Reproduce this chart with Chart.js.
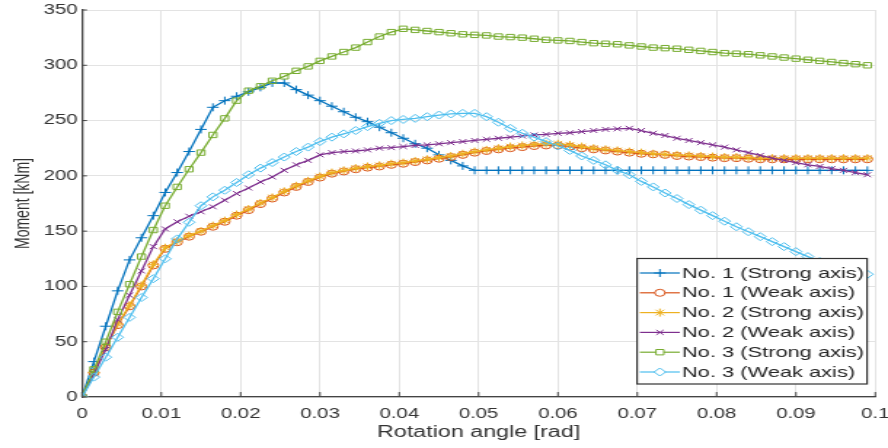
<!DOCTYPE html>
<html>
<head>
<meta charset="utf-8">
<script src="https://cdn.jsdelivr.net/npm/chart.js@4.4.1/dist/chart.umd.min.js"></script>
<style>
  html, body { margin: 0; padding: 0; background: #fff; overflow: hidden; }
  #wrap { width: 888px; height: 448px; overflow: hidden; }
  /* the reference figure is stretched sideways, so draw narrow and scale x */
  #chart { transform: scaleX(1.4557); transform-origin: 0 0; display: block; }
</style>
</head>
<body>
<div id="wrap"><canvas id="chart" width="620" height="448"></canvas></div>
<script>
// rotation angle [rad] of every sample
const angles = [0, 0.0015, 0.003, 0.0045, 0.006, 0.0075, 0.009, 0.0105, 0.012, 0.0135,
  0.015, 0.0165, 0.018, 0.0195, 0.021, 0.0225, 0.024, 0.0255, 0.027, 0.0285,
  0.03, 0.0315, 0.033, 0.0345, 0.036, 0.0375, 0.039, 0.0405, 0.042, 0.0435,
  0.045, 0.0465, 0.048, 0.0495, 0.051, 0.0525, 0.054, 0.0555, 0.057, 0.0585,
  0.06, 0.0615, 0.063, 0.0645, 0.066, 0.0675, 0.069, 0.0705, 0.072, 0.0735,
  0.075, 0.0765, 0.078, 0.0795, 0.081, 0.0825, 0.084, 0.0855, 0.087, 0.0885,
  0.09, 0.0915, 0.093, 0.0945, 0.096, 0.0975, 0.099];

// moment [kNm]
const no1Strong = [0, 32, 64, 96, 124, 144, 164, 185, 203, 222,
  242, 262, 268, 272, 276, 280, 284, 284, 278, 273,
  268, 263, 258, 253, 249, 244, 239, 234, 229, 225,
  219, 214, 209, 205, 205, 205, 205, 205, 205, 205,
  205, 205, 205, 205, 205, 205, 205, 205, 205, 205,
  205, 205, 205, 205, 205, 205, 205, 205, 205, 205,
  205, 205, 205, 205, 205, 205, 205];
const no1Weak = [0, 22, 45, 65, 82, 100, 119, 134, 140, 145,
  149.5, 154, 158.5, 164, 169, 174.5, 179.5, 185, 190, 194.5,
  198.5, 202, 204, 206, 207.5, 208.5, 210, 211, 212.5, 214,
  215.5, 217, 219, 221, 222.5, 224, 225, 226, 227, 227.5,
  227.5, 226.5, 225, 224, 223, 222, 221, 220, 219.5, 219,
  218, 217.5, 217, 216.5, 216, 216, 215.5, 215, 215, 215,
  215, 215, 215, 215, 215, 215, 215];
const no2Strong = [0, 22, 45, 66, 83, 101, 120, 135, 141, 146,
  150, 155, 159.5, 165, 170, 175.5, 180.5, 186, 191, 195.5,
  199.5, 203, 205, 207, 208.5, 209.5, 211, 212, 213.5, 215,
  216.5, 218, 220, 222, 223.5, 225, 226.5, 227.5, 228.5, 229,
  229, 228, 226.5, 225, 224, 223, 222, 221, 220, 219.5,
  219, 218.5, 218, 217.5, 217, 217, 216.5, 216, 216, 216,
  216, 216, 216, 216, 216, 216, 216];
const no2Weak = [0, 21, 43, 70, 92, 114, 136, 152, 158.5, 163.5,
  167.5, 172, 178, 184, 189, 194.5, 199, 205, 210, 214,
  219, 221, 222, 222.5, 223.5, 225, 225.5, 226.5, 227.5, 228,
  229, 230, 231, 232, 233, 234, 235, 236, 237, 237.5,
  238.5, 239, 240, 241, 242, 242.5, 243, 241, 238.5, 236.5,
  234, 232, 230, 228, 226, 223.5, 221, 218.5, 216, 214,
  212, 210, 208.5, 206.5, 205, 203, 201];
const no3Strong = [0, 25, 50, 77, 102, 127, 151, 173, 190, 206,
  221, 237, 252, 268, 277, 281, 286, 290, 295, 299,
  304, 308, 312, 316, 321, 326, 330, 333, 332, 331,
  330, 329, 328, 327.5, 327, 326, 325.5, 325, 324, 323,
  322.5, 322, 321, 320, 319.5, 319, 318, 317, 316, 315.5,
  315, 314, 313, 312, 311, 310.5, 310, 309, 308, 307,
  306, 305, 304, 303, 302, 301, 300];
const no3Weak = [0, 18, 36, 54, 72, 90, 107, 125, 143, 158,
  173, 181, 187, 194, 201, 207, 212, 217, 222, 226,
  231, 235, 238, 241, 244.5, 247.5, 250, 251, 252, 253.5,
  255, 256, 256.5, 256.5, 253.5, 248.5, 243, 238.5, 235, 231,
  227, 223, 218, 214, 210, 205, 201, 195, 190, 184.5,
  179.5, 174, 169, 164, 159, 154, 149.5, 145, 140.5, 136,
  131.5, 127, 122.5, 119, 116, 113.5, 111];

const seriesNames = ['No. 1 (Strong axis)', 'No. 1 (Weak axis)', 'No. 2 (Strong axis)',
  'No. 2 (Weak axis)', 'No. 3 (Strong axis)', 'No. 3 (Weak axis)'];
const xTicks = [0, 0.01, 0.02, 0.03, 0.04, 0.05, 0.06, 0.07, 0.08, 0.09, 0.1];
const yTicks = [0, 50, 100, 150, 200, 250, 300, 350];

const STRETCH = 1.4557;
const colors = ['#0072BD', '#D95319', '#EDB120', '#7E2F8E', '#77AC30', '#4DBEEE'];
const markers = ['cross', 'circle', 'star', 'crossRot', 'rect', 'rectRot'];
const radii = [4, 3.5, 4, 3.5, 3.8, 4];

function toPoints(ys) {
  return angles.map(function (a, i) { return { x: a, y: ys[i] }; });
}

const allSeries = [no1Strong, no1Weak, no2Strong, no2Weak, no3Strong, no3Weak];

// small inward tick marks like the matlab axes
const innerTicks = {
  id: 'innerTicks',
  afterDraw(chart) {
    const ctx = chart.ctx, a = chart.chartArea;
    const xs = chart.scales.x, ys = chart.scales.y;
    ctx.save();
    ctx.strokeStyle = '#444';
    ctx.lineWidth = 1;
    ctx.beginPath();
    xTicks.forEach(function (v) {
      const px = xs.getPixelForValue(v);
      ctx.moveTo(px, a.bottom);
      ctx.lineTo(px, a.bottom - 5);
    });
    yTicks.forEach(function (v) {
      const py = ys.getPixelForValue(v);
      ctx.moveTo(a.left, py);
      ctx.lineTo(a.left + 5 / STRETCH, py);
    });
    ctx.stroke();
    ctx.restore();
  }
};

// boxed legend inside the plot, bottom right
const boxLegend = {
  id: 'boxLegend',
  afterDraw(chart) {
    const ctx = chart.ctx;
    const left = 437.6, right = 595.6, top = 258.5, bottom = 384;
    ctx.save();
    ctx.fillStyle = '#fff';
    ctx.fillRect(left, top, right - left, bottom - top);
    ctx.strokeStyle = '#333';
    ctx.lineWidth = 1.2;
    ctx.strokeRect(left, top, right - left, bottom - top);
    ctx.font = '15px "Liberation Sans", Arial, sans-serif';
    ctx.textBaseline = 'middle';
    for (let i = 0; i < seriesNames.length; i++) {
      const y = 273 + i * 19.8;
      ctx.strokeStyle = colors[i];
      ctx.lineWidth = 1.2;
      ctx.beginPath();
      ctx.moveTo(439.5, y);
      ctx.lineTo(467, y);
      ctx.stroke();
      ctx.fillStyle = '#fff';
      ctx.lineWidth = 1;
      Chart.helpers.drawPoint(ctx, { pointStyle: markers[i], radius: radii[i], rotation: 0, borderWidth: 1 }, 453.3, y);
      ctx.fillStyle = '#262626';
      ctx.fillText(seriesNames[i], 468.5, y + 0.5);
    }
    ctx.restore();
  }
};

Chart.defaults.font.family = '"Liberation Sans", Arial, sans-serif';
Chart.defaults.color = '#333';

const ctx = document.getElementById('chart').getContext('2d');
new Chart(ctx, {
  type: 'line',
  data: {
    datasets: allSeries.map(function (ys, i) {
      return {
        label: seriesNames[i],
        data: toPoints(ys),
        borderColor: colors[i],
        backgroundColor: colors[i],
        pointStyle: markers[i],
        pointRadius: radii[i],
        pointBorderColor: colors[i],
        pointBackgroundColor: 'rgba(0,0,0,0)',
        pointBorderWidth: 1,
        borderWidth: 1.3,
        tension: 0,
        fill: false,
        order: 6 - i
      };
    })
  },
  options: {
    responsive: false,
    animation: false,
    events: [],
    layout: { autoPadding: false, padding: { left: 0, right: 18.2, top: 10, bottom: 0 } },
    plugins: {
      legend: { display: false },
      tooltip: { enabled: false }
    },
    scales: {
      x: {
        type: 'linear',
        min: 0,
        max: 0.1,
        afterFit(scale) { scale.height = 51; },
        afterBuildTicks(scale) { scale.ticks = xTicks.map(function (v) { return { value: v }; }); },
        ticks: {
          padding: 9,
          font: { size: 14 },
          color: '#333',
          maxRotation: 0,
          callback: function (v) { return String(Number(v.toFixed(2))); }
        },
        grid: { color: '#e3e3e3', lineWidth: 1, drawTicks: false },
        border: { color: '#444', width: 1.3 },
        title: {
          display: true,
          text: 'Rotation angle [rad]',
          color: '#333',
          font: { size: 16 },
          padding: { top: 0, bottom: 6 }
        }
      },
      y: {
        type: 'linear',
        min: 0,
        max: 350,
        afterFit(scale) { scale.width = 56.3; },
        afterBuildTicks(scale) { scale.ticks = yTicks.map(function (v) { return { value: v }; }); },
        ticks: { padding: 3, font: { size: 14, lineHeight: 1 }, color: '#333' },
        grid: { color: '#e3e3e3', lineWidth: 1, drawTicks: false },
        border: { color: '#444', width: 1.3 },
        title: {
          display: true,
          text: 'Moment [kNm]',
          color: '#333',
          font: { size: 14 },
          padding: { top: 7.5, bottom: 0 }
        }
      }
    }
  },
  plugins: [innerTicks, boxLegend]
});
</script>
</body>
</html>
